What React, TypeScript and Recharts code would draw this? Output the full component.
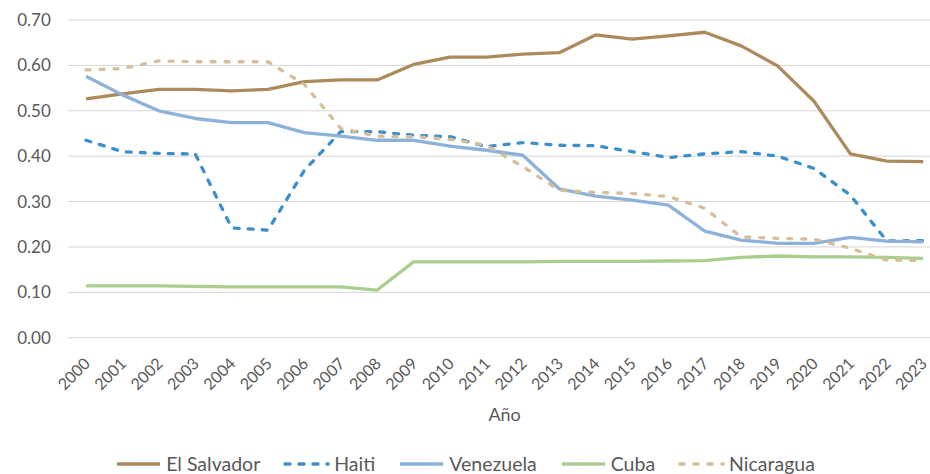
import React from 'react';
import { LineChart, Line, XAxis, YAxis, CartesianGrid, Legend, Label } from 'recharts';

const years = ['2000','2001','2002','2003','2004','2005','2006','2007','2008','2009','2010','2011','2012','2013','2014','2015','2016','2017','2018','2019','2020','2021','2022','2023'];
const elSalvador = [0.526,0.537,0.547,0.547,0.544,0.547,0.564,0.568,0.568,0.602,0.618,0.618,0.625,0.628,0.667,0.658,0.665,0.673,0.643,0.599,0.521,0.405,0.389,0.388];
const haiti = [0.435,0.410,0.406,0.405,0.242,0.237,0.369,0.454,0.454,0.446,0.443,0.421,0.430,0.424,0.423,0.410,0.397,0.405,0.410,0.400,0.373,0.314,0.213,0.214];
const venezuela = [0.576,0.535,0.500,0.483,0.474,0.474,0.452,0.444,0.435,0.435,0.422,0.413,0.402,0.328,0.312,0.303,0.292,0.235,0.215,0.208,0.208,0.221,0.213,0.211];
const cuba = [0.114,0.114,0.114,0.113,0.112,0.112,0.112,0.112,0.105,0.167,0.167,0.167,0.167,0.168,0.168,0.168,0.169,0.170,0.177,0.180,0.178,0.178,0.177,0.175];
const nicaragua = [0.590,0.593,0.610,0.608,0.608,0.608,0.558,0.461,0.444,0.443,0.437,0.424,0.377,0.325,0.320,0.318,0.311,0.285,0.222,0.219,0.217,0.197,0.171,0.170];
const yTicks = [0, 0.1, 0.2, 0.3, 0.4, 0.5, 0.6, 0.7];

const series = [
  { key: 'El Salvador', values: elSalvador, color: '#AD8A5C', dash: undefined as string | undefined },
  { key: 'Haiti', values: haiti, color: '#3C8FC8', dash: '5 9' },
  { key: 'Venezuela', values: venezuela, color: '#8CB2D9', dash: undefined },
  { key: 'Cuba', values: cuba, color: '#AACE8E', dash: undefined },
  { key: 'Nicaragua', values: nicaragua, color: '#D6BE9B', dash: '4 10' },
];

const data = years.map((year, i) => {
  const row: Record<string, any> = { year };
  series.forEach((s) => { row[s.key] = s.values[i]; });
  return row;
});

const FONT = 'Lato, "Open Sans", sans-serif';
const GRAY = '#595959';

const XTick = (props: any) => {
  const { x, y, payload } = props;
  const ex = x + 5;
  const ey = y + 27;
  return (
    <text x={ex} y={ey} transform={`rotate(-45 ${ex} ${ey})`} textAnchor="end" fill={GRAY} fontSize={16} fontFamily={FONT}>
      {payload.value}
    </text>
  );
};

const LegendContent = () => {
  return (
    <div style={{ display: 'flex', justifyContent: 'center', alignItems: 'center', width: 930, height: 22, fontFamily: FONT, fontSize: 19.5, lineHeight: '22px', color: GRAY }}>
      {series.map((s, i) => (
        <div key={s.key} style={{ display: 'flex', alignItems: 'center', marginRight: i < series.length - 1 ? 23 : 0 }}>
          <svg width={47} height={8} style={{ display: 'block' }}>
            <line x1={2} y1={4} x2={45} y2={4} stroke={s.color} strokeWidth={3.5} strokeDasharray={s.dash} strokeLinecap={s.dash ? 'round' : 'butt'} />
          </svg>
          <span style={{ marginLeft: 4, whiteSpace: 'nowrap' }}>{s.key}</span>
        </div>
      ))}
    </div>
  );
};

export default function App() {
  return (
    <div style={{ position: 'absolute', left: 0, top: 0, width: 930, height: 474, overflow: 'hidden', background: '#fff' }}>
      <LineChart width={950} height={474} data={data} margin={{ top: 20, right: 8.6, left: 0, bottom: 0 }}>
        <CartesianGrid horizontal vertical={false} stroke="#D4D4D4" strokeWidth={1} />
        <XAxis
          dataKey="year"
          padding={{ left: 18.2, right: 18.2 }}
          height={136.3}
          axisLine={false}
          tickLine={false}
          tickSize={0}
          tickMargin={0}
          interval={0}
          tick={<XTick />}
        >
          <Label value="Año" position="insideTop" offset={71} fill={GRAY} fontSize={18} fontFamily={FONT} />
        </XAxis>
        <YAxis
          width={67.8}
          domain={[0, 0.7]}
          ticks={yTicks}
          axisLine={false}
          tickLine={false}
          tickSize={0}
          tickMargin={17}
          tickFormatter={(v: number) => v.toFixed(2)}
          tick={{ fill: GRAY, fontSize: 17, fontFamily: FONT }}
        />
        <Legend layout="horizontal" verticalAlign="middle" align="center" wrapperStyle={{ top: 453, left: 0, width: 930, height: 22 }} content={<LegendContent />} />
        {series.map((s) => (
          <Line
            key={s.key}
            type="linear"
            dataKey={s.key}
            stroke={s.color}
            strokeWidth={3.3}
            strokeDasharray={s.dash}
            strokeLinecap={s.dash ? 'round' : 'butt'}
            strokeLinejoin="round"
            dot={false}
            activeDot={false}
            isAnimationActive={false}
          />
        ))}
      </LineChart>
    </div>
  );
}
